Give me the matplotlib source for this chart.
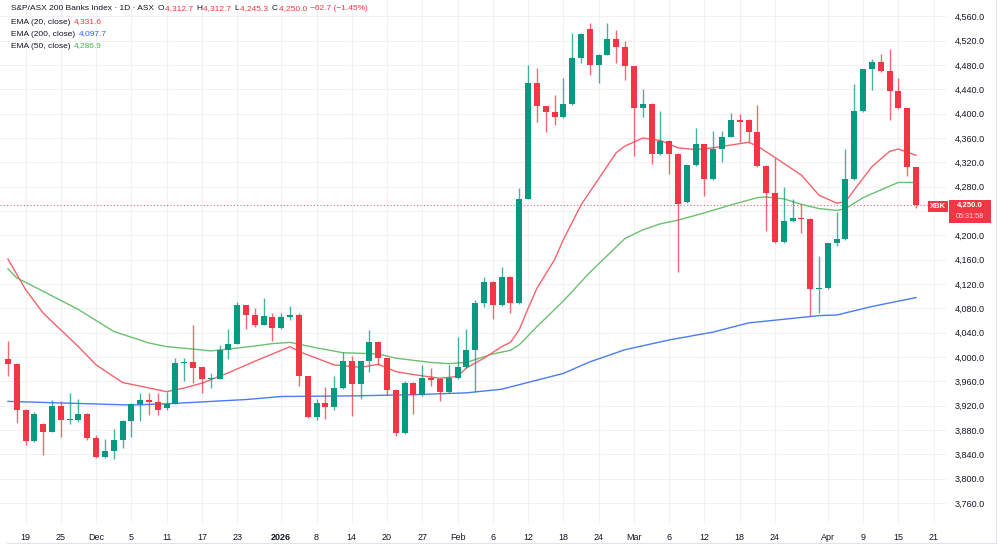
import numpy as np
import pandas as pd
import matplotlib
matplotlib.use("Agg")
import matplotlib.pyplot as plt
from matplotlib.patches import Rectangle
from matplotlib.lines import Line2D
from matplotlib.transforms import IdentityTransform

plt.rcParams['font.family'] = ['Liberation Sans', 'DejaVu Sans']

# ASX trading days shown on the chart (Nov 17 2025 - Apr 17 2026)
holidays = ["2025-12-25", "2025-12-26", "2026-01-01", "2026-01-26", "2026-04-03", "2026-04-06"]
days = pd.bdate_range("2025-11-17", "2026-04-24")
days = days[~days.isin(pd.to_datetime(holidays))]

# daily candles
opens = [3997, 3988, 3913, 3862, 3890, 3877, 3919, 3896, 3896, 3907,
         3867, 3835, 3846, 3864, 3895, 3923, 3929, 3926, 3916, 3923,
         3990, 3992, 3983, 3963, 3964, 4011, 4022, 4085, 4069, 4053,
         4066, 4048, 4066, 4069, 3968, 3901, 3925, 3917, 3949, 3993,
         3955, 3993, 4025, 3998, 3946, 3875, 3958, 3937, 3966, 3964,
         3942, 3965, 3983, 4012, 4089, 4124, 4085, 4132, 4088, 4260,
         4450, 4412, 4403, 4394, 4416, 4491, 4539, 4480, 4497, 4523,
         4509, 4478, 4409, 4416, 4333, 4355, 4334, 4255, 4315, 4350,
         4292, 4342, 4362, 4390, 4390, 4370, 4314, 4270, 4189, 4223,
         4229, 4227, 4112, 4113, 4187, 4194, 4292, 4404, 4473, 4485,
         4470, 4437, 4409, 4312.7]
highs = [4027, 3990, 3914, 3909, 3892, 3930, 3928, 3941, 3931, 3908,
         3872, 3865, 3881, 3896, 3924, 3941, 3940, 3940, 3942, 3998,
         3999, 4053, 3984, 3974, 4020, 4046, 4091, 4086, 4080, 4097,
         4072, 4072, 4084, 4072, 3969, 3931, 3951, 3968, 4009, 4001,
         3994, 4044, 4026, 3999, 3947, 3961, 3959, 3986, 3982, 3965,
         3986, 4033, 4046, 4094, 4131, 4125, 4148, 4133, 4278, 4480,
         4475, 4413, 4430, 4459, 4532, 4532, 4550, 4498, 4549, 4537,
         4519, 4479, 4440, 4417, 4405, 4356, 4335, 4316, 4377, 4351,
         4371, 4372, 4402, 4400, 4391, 4415, 4315, 4328, 4279, 4260,
         4251, 4228, 4166, 4188, 4238, 4342, 4449, 4474, 4490, 4498,
         4506, 4458, 4410, 4312.7]
lows = [3968, 3891, 3856, 3860, 3838, 3876, 3868, 3890, 3893, 3863,
        3834, 3834, 3832, 3850, 3869, 3894, 3904, 3904, 3912, 3922,
        3961, 3958, 3941, 3949, 3963, 3997, 4021, 4046, 4050, 4052,
        4027, 4046, 4061, 3952, 3900, 3897, 3898, 3913, 3948, 3903,
        3931, 3976, 3987, 3938, 3870, 3874, 3907, 3936, 3952, 3928,
        3941, 3964, 3982, 3942, 4082, 4063, 4084, 4072, 4087, 4259,
        4386, 4370, 4382, 4393, 4415, 4484, 4463, 4450, 4496, 4484,
        4456, 4330, 4394, 4317, 4332, 4301, 4140, 4254, 4314, 4264,
        4291, 4320, 4361, 4353, 4353, 4313, 4207, 4188, 4188, 4222,
        4204, 4067, 4072, 4112, 4182, 4193, 4291, 4403, 4439, 4469,
        4390, 4408, 4298, 4245.3]
closes = [3988, 3912, 3862, 3907, 3877, 3919, 3896, 3897, 3907, 3866,
          3835, 3846, 3864, 3895, 3923, 3929, 3926, 3912, 3923, 3990,
          3992, 3982, 3963, 3966, 4012, 4022, 4085, 4069, 4053, 4067,
          4048, 4065, 4069, 3968, 3901, 3925, 3917, 3949, 3993, 3955,
          3993, 4025, 3998, 3946, 3875, 3958, 3937, 3965, 3962, 3942,
          3965, 3983, 4012, 4089, 4124, 4085, 4132, 4088, 4260, 4450,
          4412, 4403, 4394, 4416, 4491, 4531, 4480, 4497, 4523, 4509,
          4478, 4409, 4416, 4333, 4355, 4333, 4251, 4315, 4350, 4292,
          4342, 4362, 4390, 4387, 4370, 4314, 4270, 4189, 4223, 4229,
          4227, 4112, 4113, 4187, 4194, 4292, 4404, 4473, 4485, 4470,
          4437, 4409, 4312.7, 4250.0]

# EMA lines (bar number, value)
ema20_bar = [0, 2, 4, 8, 10, 13, 16, 18, 20, 22, 25, 28, 32, 33, 37, 40, 42, 44, 46, 49,
             51, 52, 54, 56, 57, 58, 59, 60, 62, 63, 65, 67, 69, 70, 72, 74, 76, 78, 80, 84,
             85, 87, 90, 92, 94, 95, 96, 98, 100, 101, 103]
ema20_val = [4161, 4111, 4072, 4017, 3987, 3958, 3949, 3943, 3949, 3957, 3974, 3993, 4017, 4009, 3987, 3983, 3988, 3976, 3971, 3965,
             3968, 3982, 3998, 4017, 4024, 4045, 4080, 4113, 4160, 4193, 4250, 4293, 4336, 4347, 4360, 4356, 4344, 4341, 4344, 4353,
             4347, 4328, 4299, 4266, 4253, 4255, 4275, 4313, 4338, 4342, 4331.6]
ema50_bar = [0, 1, 4, 8, 12, 16, 18, 21, 23, 25, 28, 30, 32, 35, 38, 42, 44, 48, 50, 52,
             55, 57, 58, 60, 63, 66, 70, 72, 74, 76, 79, 82, 85, 86, 88, 90, 92, 94, 95, 97,
             100, 101, 103]
ema50_val = [4145, 4130, 4108, 4078, 4042, 4023, 4017, 4013, 4010, 4013, 4018, 4022, 4024, 4015, 4007, 4005, 3998, 3991, 3989, 3991,
             4005, 4011, 4020, 4050, 4092, 4139, 4195, 4209, 4219, 4225, 4237, 4250, 4262, 4263, 4260, 4251, 4244, 4241, 4244, 4262,
             4281, 4287, 4286.9]
ema200_bar = [0, 7, 14, 18, 27, 31, 39, 46, 52, 56, 63, 66, 70, 75, 80, 84, 90, 92, 94, 98, 103]
ema200_val = [3927, 3924, 3921, 3923, 3930, 3935, 3936, 3938, 3941, 3947, 3973, 3992, 4012, 4028, 4041, 4056, 4065, 4068, 4069, 4083, 4097.7]

tick_dates = ["2025-11-19", "2025-11-25", "2025-12-01", "2025-12-05", "2025-12-11", "2025-12-17",
              "2025-12-23", "2026-01-02", "2026-01-08", "2026-01-14", "2026-01-20", "2026-01-27",
              "2026-02-02", "2026-02-06", "2026-02-12", "2026-02-18", "2026-02-24", "2026-03-02",
              "2026-03-06", "2026-03-12", "2026-03-18", "2026-03-24", "2026-04-01", "2026-04-09",
              "2026-04-15", "2026-04-21"]
tick_labels = ["19", "25", "Dec", "5", "11", "17", "23", "2026", "8", "14", "20", "27", "Feb", "6",
               "12", "18", "24", "Mar", "6", "12", "18", "24", "Apr", "9", "15", "21"]

up_col = '#089981'
down_col = '#F23645'
text_col = '#131722'

W, H = 1000, 546
fig = plt.figure(figsize=(W / 100, H / 100), dpi=100)
ax = fig.add_axes([0, 1 - 523 / H, 946 / W, 523 / H])

o = np.array(opens)
c = np.array(closes)
hi = np.array(highs)
lo = np.array(lows)
x = np.arange(len(o))
cols = np.where(c >= o, up_col, down_col)

ax.vlines(x, lo, hi, colors=cols, lw=1, alpha=0.75, zorder=3)
body = np.maximum(np.abs(c - o), 1.2)
ax.bar(x, body, bottom=np.minimum(o, c), width=0.68, color=cols, lw=0, zorder=4)

ax.plot(ema200_bar, ema200_val, color='#4a7cf7', lw=1, zorder=2)
ax.plot(ema50_bar, ema50_val, color='#6cc070', lw=1, zorder=2)
ax.plot(ema20_bar, ema20_val, color='#f4636c', lw=1, zorder=2)

ax.axhline(closes[-1], color=down_col, lw=0.8, ls=(0, (1, 2)), alpha=0.8, zorder=1)

ax.set_xlim(-0.9, 106.4)
ax.set_ylim(3727, 4587)

tick_pos = [days.get_loc(pd.Timestamp(d)) for d in tick_dates]
ax.set_xticks(tick_pos)
ax.set_xticklabels(tick_labels, fontsize=6.5, color=text_col)
for lab in ax.get_xticklabels():
    if lab.get_text() == "2026":
        lab.set_fontweight('bold')
yt = np.arange(3760, 4561, 40)
ax.set_yticks(yt)
# the 4,240 label sits under the last-price box, so it is left blank
ax.set_yticklabels(["" if v == 4240 else f"{v:,.1f}" for v in yt], fontsize=6.5, color=text_col)
ax.yaxis.tick_right()
ax.tick_params(length=0)
ax.tick_params(axis='x', pad=7)
ax.tick_params(axis='y', pad=6)
ax.grid(color='#f0f1f4', lw=0.8, zorder=0)
ax.set_axisbelow(True)
for s in ax.spines.values():
    s.set_visible(False)

# thin frame lines at the bottom and right
fig.add_artist(Line2D([7 / W, 996 / W], [1 - 543 / H, 1 - 543 / H], transform=fig.transFigure,
                      color='#e0e3eb', lw=0.8))
fig.add_artist(Line2D([996 / W, 996 / W], [1 - 543 / H, 1], transform=fig.transFigure,
                      color='#e0e3eb', lw=0.8))

# legend rows, drawn piece by piece in pixel units
renderer = fig.canvas.get_renderer()


def chain(x0, y0, parts):
    xx = x0
    for s, col in parts:
        t = fig.text(xx, H - y0, s, color=col, fontsize=6, va='center', ha='left',
                     transform=IdentityTransform())
        bb = t.get_window_extent(renderer)
        xx = bb.x1 + 1


chain(11, 9, [("S&P/ASX 200 Banks Index · 1D · ASX ", text_col), ("O", text_col), ("4,312.7 ", down_col),
              ("H", text_col), ("4,312.7 ", down_col), ("L", text_col), ("4,245.3 ", down_col),
              ("C", text_col), ("4,250.0 ", down_col), ("−62.7 (−1.45%)", down_col)])
chain(11, 22, [("EMA (20, close) ", text_col), ("4,331.6", '#F23645')])
chain(11, 34, [("EMA (200, close) ", text_col), ("4,097.7", '#2962FF')])
chain(11, 46, [("EMA (50, close) ", text_col), ("4,286.9", '#4CAF50')])

# last price labels on the right
fig.add_artist(Rectangle((928 / W, 1 - 212 / H), 20 / W, 10.5 / H, transform=fig.transFigure,
                         color=down_col, lw=0, zorder=5))
fig.text(938 / W, 1 - 206.8 / H, "XBK", color='white', fontsize=5.5, fontweight='bold',
         ha='center', va='center', zorder=6)
fig.add_artist(Rectangle((949 / W, 1 - 223 / H), 42 / W, 23 / H, transform=fig.transFigure,
                         color=down_col, lw=0, zorder=5))
fig.text(970 / W, 1 - 205 / H, "4,250.0", color='white', fontsize=5.6, fontweight='bold',
         ha='center', va='center', zorder=6)
fig.text(970 / W, 1 - 216.5 / H, "05:31:58", color='#ffe0e3', fontsize=5.2, ha='center', va='center', zorder=6)

fig.savefig("out.png", dpi=100)
